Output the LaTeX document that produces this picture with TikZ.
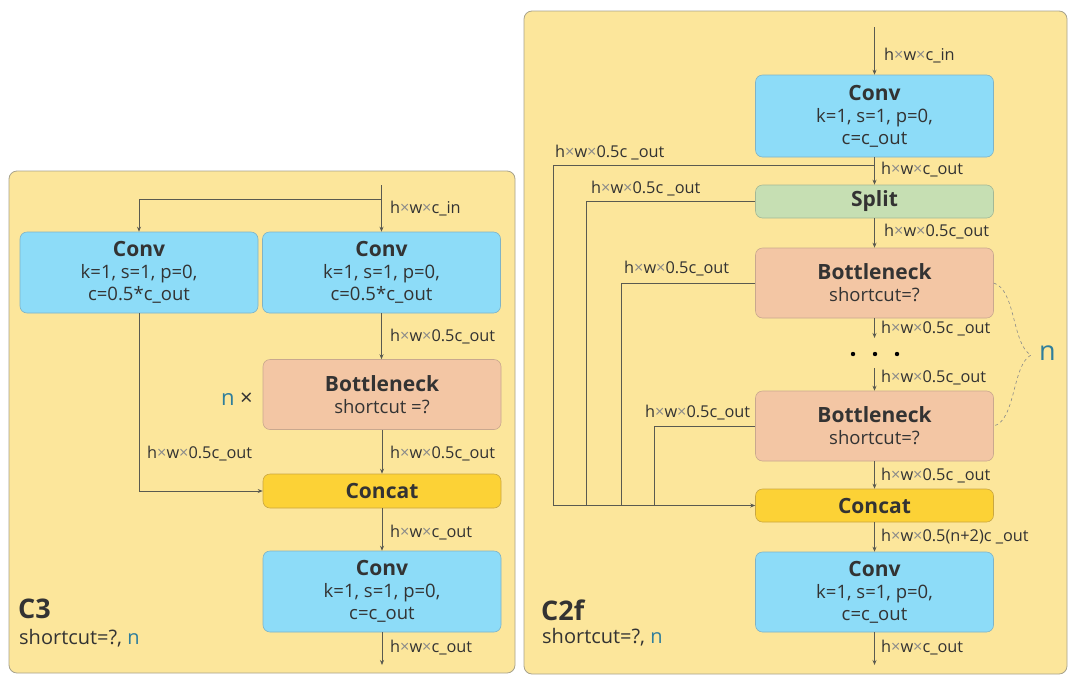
\documentclass[tikz,border=0pt]{standalone}
\usepackage{fontspec}
\setmainfont{Open Sans}
\usetikzlibrary{arrows.meta}
\definecolor{panel}{HTML}{FCE69B}
\definecolor{panelline}{HTML}{A8A38C}
\definecolor{convfill}{HTML}{8DDCF8}
\definecolor{convline}{HTML}{7FB3C6}
\definecolor{bnfill}{HTML}{F3C6A4}
\definecolor{bnline}{HTML}{C9A88E}
\definecolor{splitfill}{HTML}{C6DFB3}
\definecolor{splitline}{HTML}{A3B896}
\definecolor{catfill}{HTML}{FCD236}
\definecolor{catline}{HTML}{C9A741}
\definecolor{txt}{HTML}{333333}
\definecolor{wirec}{HTML}{5A5A50}
\definecolor{tealn}{HTML}{2F7E9B}
\definecolor{xg}{HTML}{8A8A8A}
\newcommand\hx{{\color{xg}×}}
\newcommand\ttl[1]{{\fontsize{21}{22}\selectfont\bfseries #1}}
\begin{document}
\begin{tikzpicture}[x=1pt,y=-1pt,
  blk/.style={rectangle, rounded corners=7pt, draw, line width=0.6pt, align=center, text=txt, inner sep=0pt, font=\fontsize{18.5}{22}\selectfont},
  convblk/.style={blk, fill=convfill, draw=convline, minimum width=238pt, minimum height=81pt},
  bnblk/.style={blk, fill=bnfill, draw=bnline, minimum width=238pt, minimum height=70pt},
  catblk/.style={blk, fill=catfill, draw=catline, minimum width=238pt, minimum height=34pt},
  splitblk/.style={blk, fill=splitfill, draw=splitline, minimum width=238pt, minimum height=33pt},
  lbl/.style={anchor=west, inner sep=0pt, text=txt, font=\fontsize{16.3}{17}\selectfont},
  wire/.style={draw=wirec, line width=0.7pt, -{Stealth[length=5pt,width=4pt]}},
  plain/.style={draw=wirec, line width=0.7pt},
  panelbox/.style={fill=panel, draw=panelline, line width=0.8pt, rounded corners=8pt}
]
\useasboundingbox (0,0) rectangle (1075,683);
\fill[white] (0,0) rectangle (1075,683);
% panels
\draw[panelbox] (9,171) rectangle (515,673);
\draw[panelbox] (524,11) rectangle (1067,674);

% ===== C3 =====
\node[convblk] (c1) at (139,272.5) {\ttl{Conv}\\k=1, s=1, p=0,\\c=0.5*c\_out};
\node[convblk] (c2) at (381.5,272.5) {\ttl{Conv}\\k=1, s=1, p=0,\\c=0.5*c\_out};
\node[bnblk] (bn) at (382,394.5) {\ttl{Bottleneck}\\shortcut =?};
\node[catblk] (cat) at (382,491) {\ttl{Concat}};
\node[convblk] (c3) at (382,591.5) {\ttl{Conv}\\k=1, s=1, p=0,\\c=c\_out};
\coordinate (lin) at (381.5,185);
\coordinate (lsp) at (381.5,199);
\coordinate (lout) at (382,665);
\draw[wire] (lin) -- (c2.north);
\draw[wire] (lsp) -| (c1.north);
\draw[wire] (c2.south) -- (c2.south |- bn.north);
\draw[wire] (bn.south) -- (cat.north);
\draw[wire] (c1.south) |- (cat.west);
\draw[wire] (cat.south) -- (c3.north);
\draw[wire] (c3.south) -- (lout);
\node[lbl] (l1) at (390,209) {h\hx w\hx c\_in};
\node[lbl] (l2) at (390,337) {h\hx w\hx 0.5c\_out};
\node[lbl] (l3) at (390,454) {h\hx w\hx 0.5c\_out};
\node[lbl] (l4) at (147,454) {h\hx w\hx 0.5c\_out};
\node[lbl] (l5) at (390,533) {h\hx w\hx c\_out};
\node[lbl] (l6) at (390,648) {h\hx w\hx c\_out};
\node[anchor=east, inner sep=0pt, text=txt, font=\fontsize{22}{24}\selectfont] (nx) at (253,399) {{\color{tealn}n} ×};
\node[anchor=west, inner sep=0pt, text=txt, font=\fontsize{27}{28}\selectfont\bfseries] (c3t) at (18,609) {C3};
\node[anchor=west, inner sep=0pt, text=txt, font=\fontsize{20}{22}\selectfont] (c3s) at (19,638) {shortcut=?, {\color{tealn}n}};

% ===== C2f =====
\node[convblk, minimum height=82pt] (rc1) at (874.5,116) {\ttl{Conv}\\k=1, s=1, p=0,\\c=c\_out};
\node[splitblk] (sp) at (874.5,201.5) {\ttl{Split}};
\node[bnblk] (rb1) at (874.5,283) {\ttl{Bottleneck}\\shortcut=?};
\node[bnblk] (rb2) at (874.5,426) {\ttl{Bottleneck}\\shortcut=?};
\node[catblk, minimum height=33pt] (rcat) at (874.5,505.5) {\ttl{Concat}};
\node[convblk, minimum height=80pt] (rc2) at (874.5,592) {\ttl{Conv}\\k=1, s=1, p=0,\\c=c\_out};
\coordinate (rin) at (874.5,27);
\coordinate (rj) at (874.5,165);
\coordinate (d1) at (874.5,338);
\coordinate (d2) at (874.5,368);
\coordinate (rout) at (874.5,665);
\coordinate (v1) at (553,505.5);
\coordinate (v2) at (586,505.5);
\coordinate (v3) at (621,505.5);
\coordinate (v4) at (654,505.5);
\draw[wire] (rin) -- (rc1.north);
\draw[wire] (rc1.south) -- (sp.north);
\draw[wire] (sp.south) -- (rb1.north);
\draw[wire] (rb1.south) -- (d1);
\draw[wire] (d2) -- (rb2.north);
\draw[wire] (rb2.south) -- (rcat.north);
\draw[wire] (rcat.south) -- (rc2.north);
\draw[wire] (rc2.south) -- (rout);
\draw[wire] (rj) -| (v1) -- (rcat.west);
\draw[plain] (sp.west) -| (v2);
\draw[plain] (rb1.west) -| (v3);
\draw[plain] (rb2.west) -| (v4);
\foreach \xx in {853,875,897} \fill[black] (\xx,354) circle (2.2pt);
\draw[xg, dashed, line width=0.6pt] (rb1.east) .. controls (1016,290) and (1012,345) .. (1031,355) .. controls (1012,365) and (1016,420) .. (rb2.east);
\node[anchor=west, inner sep=0pt, text=tealn, font=\fontsize{27}{28}\selectfont] (nn) at (1039,353) {n};
\node[lbl] (r1) at (884,56) {h\hx w\hx c\_in};
\node[lbl] (r2) at (881,170) {h\hx w\hx c\_out};
\node[lbl] (r3) at (555,153) {h\hx w\hx 0.5c \_out};
\node[lbl] (r4) at (591,189) {h\hx w\hx 0.5c \_out};
\node[lbl] (r5) at (884,232) {h\hx w\hx 0.5c\_out};
\node[lbl] (r6) at (624,269) {h\hx w\hx 0.5c\_out};
\node[lbl] (r7) at (881,329) {h\hx w\hx 0.5c \_out};
\node[lbl] (r8) at (881,378) {h\hx w\hx 0.5c\_out};
\node[lbl] (r9) at (645,413) {h\hx w\hx 0.5c\_out};
\node[lbl] (r10) at (881,476) {h\hx w\hx 0.5c \_out};
\node[lbl] (r11) at (881,537) {h\hx w\hx 0.5(n+2)c \_out};
\node[lbl] (r12) at (881,648) {h\hx w\hx c\_out};
\node[anchor=west, inner sep=0pt, text=txt, font=\fontsize{27}{28}\selectfont\bfseries] (c2t) at (541,610) {C2f};
\node[anchor=west, inner sep=0pt, text=txt, font=\fontsize{20}{22}\selectfont] (c2s) at (542,637) {shortcut=?, {\color{tealn}n}};
\end{tikzpicture}
\end{document}
